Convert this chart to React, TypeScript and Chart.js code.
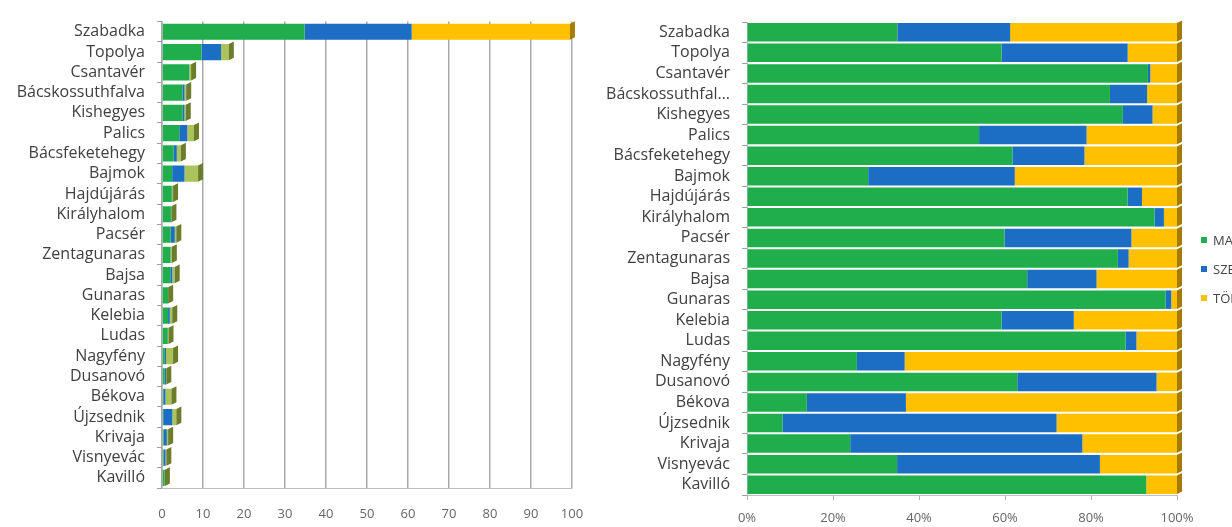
import React, { useEffect, useRef } from "react";
import { Chart, registerables } from "chart.js";

Chart.register(...registerables);

// Settlements, top to bottom
const settlements = [
  "Szabadka", "Topolya", "Csantavér", "Bácskossuthfalva", "Kishegyes", "Palics",
  "Bácsfeketehegy", "Bajmok", "Hajdújárás", "Királyhalom", "Pacsér", "Zentagunaras",
  "Bajsa", "Gunaras", "Kelebia", "Ludas", "Nagyfény", "Dusanovó", "Békova",
  "Újzsednik", "Krivaja", "Visnyevác", "Kavilló",
];

// Population by nationality (thousands)
const magyar = [34.8, 9.65, 6.62, 4.98, 5.07, 4.21, 2.84, 2.48, 2.39, 2.18, 2.09, 2.07, 2.02, 1.46, 1.48, 1.4, 0.69, 0.66, 0.32, 0.29, 0.36, 0.37, 0.65];
const szerb = [26.1, 4.78, 0.04, 0.51, 0.4, 1.95, 0.77, 3.0, 0.09, 0.05, 1.03, 0.06, 0.5, 0.02, 0.42, 0.04, 0.3, 0.34, 0.53, 2.23, 0.81, 0.5, 0];
const tobbi = [38.6, 1.87, 0.44, 0.41, 0.33, 1.64, 0.99, 3.32, 0.22, 0.07, 0.37, 0.27, 0.58, 0.02, 0.6, 0.15, 1.71, 0.05, 1.45, 0.98, 0.33, 0.19, 0.05];

const seriesNames = ["MAGYAR", "SZERB", "TÖBBI"];

const GREEN = "#1fae4b";
const BLUE = "#1b6ec4";
const YELLOW = "#ffc000";
const OLIVE = "#abc35a";

const FONT = "'Open Sans', sans-serif";

// Darker side face at the end of each stacked bar
const depthPlugin = {
  id: "barDepth",
  afterDatasetsDraw(chart: any, _args: any, opts: any) {
    const ctx = chart.ctx;
    const last = chart.data.datasets.length - 1;
    const meta = chart.getDatasetMeta(last);
    const d = opts.depth || 5;
    ctx.save();
    meta.data.forEach((bar: any, i: number) => {
      const { x, y, height } = bar.getProps(["x", "y", "height"], true);
      const top = y - height / 2;
      const bottom = y + height / 2;
      ctx.fillStyle = typeof opts.color === "function" ? opts.color(i) : opts.color;
      ctx.beginPath();
      ctx.moveTo(x, top);
      ctx.lineTo(x + d, top - d * 0.5);
      ctx.lineTo(x + d, bottom - d * 0.5);
      ctx.lineTo(x, bottom);
      ctx.closePath();
      ctx.fill();
    });
    ctx.restore();
  },
};

function AbsoluteChart() {
  const ref = useRef<HTMLCanvasElement>(null);
  useEffect(() => {
    const chart = new Chart(ref.current!, {
      type: "bar",
      data: {
        labels: settlements,
        datasets: [
          { label: seriesNames[0], data: magyar, backgroundColor: GREEN },
          { label: seriesNames[1], data: szerb, backgroundColor: BLUE },
          {
            label: seriesNames[2],
            data: tobbi,
            backgroundColor: settlements.map((_, i) => (i === 0 ? YELLOW : OLIVE)),
          },
        ],
      },
      options: {
        indexAxis: "y",
        responsive: false,
        animation: false,
        layout: { padding: { top: 20, right: 38, left: 0, bottom: 0 } },
        datasets: { bar: { barPercentage: 0.8, categoryPercentage: 1 } },
        plugins: {
          legend: { display: false },
          tooltip: { enabled: false },
          barDepth: {
            depth: 5,
            color: (i: number) => (i === 0 ? "#a77f00" : "#6b7c2a"),
          },
        } as any,
        scales: {
          x: {
            stacked: true,
            min: 0,
            max: 100,
            ticks: { stepSize: 10, color: "#666", font: { family: FONT, size: 13 }, padding: 18 },
            grid: { color: "#a9a9a9", lineWidth: 1.5, drawTicks: false },
            border: { display: true, color: "#bdbdbd" },
            afterFit: (s: any) => { s.height = 39; },
          },
          y: {
            stacked: true,
            ticks: { color: "#404040", font: { family: FONT, size: 16 }, padding: 12, autoSkip: false },
            grid: { offset: true, drawOnChartArea: false, tickLength: 5, color: "#a0a0a0" },
            border: { display: true, color: "#c0c0c0" },
            afterFit: (s: any) => { s.width = 162; },
          },
        },
      },
      plugins: [depthPlugin],
    });
    return () => chart.destroy();
  }, []);
  return <canvas ref={ref} width={610} height={527} style={{ position: "absolute", left: 0, top: 0 }} />;
}

function ShareChart() {
  const ref = useRef<HTMLCanvasElement>(null);
  useEffect(() => {
    const totals = settlements.map((_, i) => magyar[i] + szerb[i] + tobbi[i]);
    const share = (arr: number[]) => arr.map((v, i) => (v / totals[i]) * 100);
    const chart = new Chart(ref.current!, {
      type: "bar",
      data: {
        labels: settlements,
        datasets: [
          { label: seriesNames[0], data: share(magyar), backgroundColor: GREEN },
          { label: seriesNames[1], data: share(szerb), backgroundColor: BLUE },
          { label: seriesNames[2], data: share(tobbi), backgroundColor: YELLOW },
        ],
      },
      options: {
        indexAxis: "y",
        responsive: false,
        animation: false,
        layout: { padding: { top: 22, right: 63, left: 0, bottom: 0 } },
        datasets: { bar: { barPercentage: 0.9, categoryPercentage: 1 } },
        plugins: {
          legend: { display: false },
          tooltip: { enabled: false },
          barDepth: { depth: 5, color: "#a47a00" },
        } as any,
        scales: {
          x: {
            stacked: true,
            min: 0,
            max: 100,
            ticks: {
              stepSize: 20,
              color: "#666",
              font: { family: FONT, size: 13 },
              padding: 10,
              callback: (v: any) => v + "%",
            },
            grid: { drawOnChartArea: false, tickLength: 5, color: "#b0b0b0" },
            border: { display: true, color: "#c0c0c0" },
            afterFit: (s: any) => { s.height = 32; },
          },
          y: {
            stacked: true,
            ticks: {
              color: "#404040",
              font: { family: FONT, size: 16 },
              padding: 12,
              autoSkip: false,
              callback: function (this: any, v: any) {
                const name = this.getLabelForValue(v) as string;
                return name.length > 15 ? name.slice(0, 14) + "…" : name;
              },
            },
            grid: { offset: true, drawOnChartArea: false, tickLength: 5, color: "#a0a0a0" },
            border: { display: true, color: "#c0c0c0" },
            afterFit: (s: any) => { s.width = 147; },
          },
        },
      },
      plugins: [depthPlugin],
    });
    return () => chart.destroy();
  }, []);
  return <canvas ref={ref} width={640} height={527} style={{ position: "absolute", left: 600, top: 0 }} />;
}

const legendColors = [GREEN, BLUE, YELLOW];

export default function App() {
  return (
    <div
      style={{
        position: "fixed",
        left: 0,
        top: 0,
        width: 1232,
        height: 527,
        overflow: "hidden",
        background: "#fff",
      }}
    >
      <AbsoluteChart />
      <ShareChart />
      {seriesNames.map((name, i) => (
        <div
          key={name}
          style={{
            position: "absolute",
            left: 1201,
            top: 232 + i * 29,
            height: 16,
            display: "flex",
            alignItems: "center",
            font: `13px ${FONT}`,
            color: "#444",
            whiteSpace: "nowrap",
          }}
        >
          <span style={{ display: "inline-block", width: 6, height: 6, background: legendColors[i], marginRight: 6 }} />
          {name}
        </div>
      ))}
    </div>
  );
}
